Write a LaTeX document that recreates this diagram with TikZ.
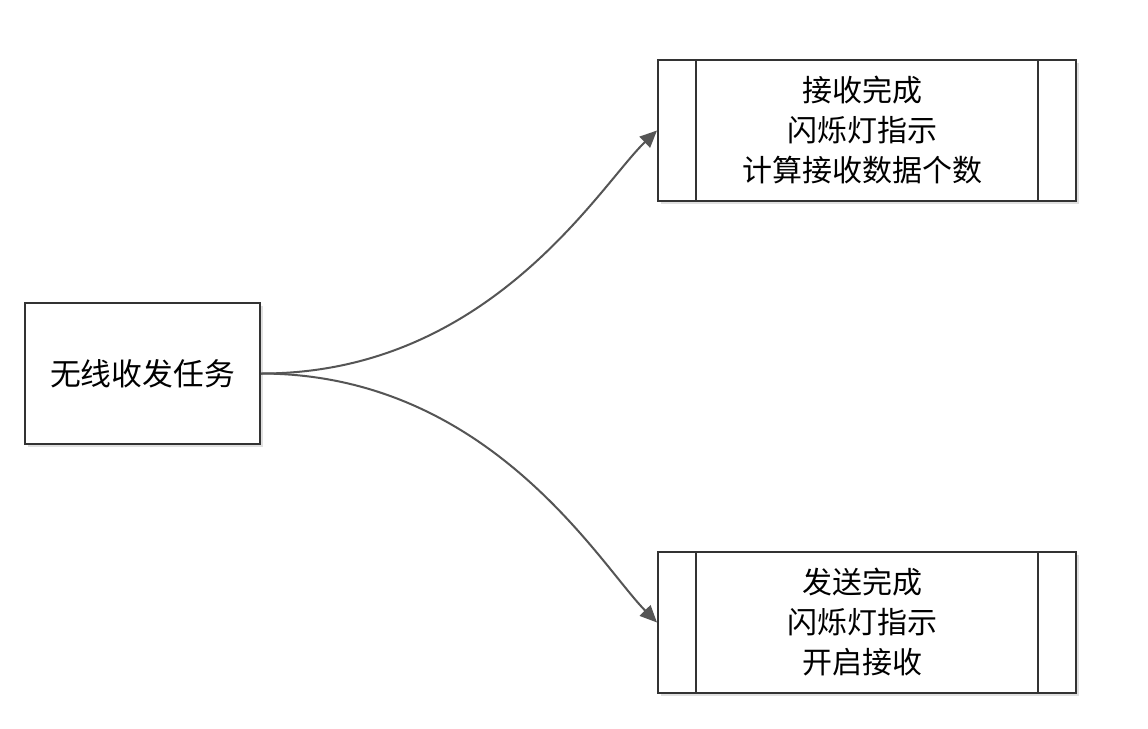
\documentclass[tikz,border=0pt]{standalone}
\usepackage{fontspec}
\setmainfont{Noto Sans CJK SC}
\usetikzlibrary{arrows.meta,shadows}
\definecolor{linegray}{HTML}{555555}
\definecolor{boxline}{HTML}{333333}
\begin{document}
\begin{tikzpicture}[x=0.5pt,y=-0.5pt,
  box/.style={draw=boxline, line width=1pt, fill=white, inner sep=0pt,
    drop shadow={shadow xshift=1.5pt, shadow yshift=-1.5pt, fill=black!12, opacity=1}},
  plainbox/.style={box, align=center, font=\fontsize{15.4pt}{20pt}\selectfont,
    minimum width=117.5pt, minimum height=70.5pt},
  predef/.style={box, minimum width=209pt, minimum height=70.5pt,
    path picture={
      \draw[boxline, line width=1pt] ([xshift=19pt]path picture bounding box.north west) -- ([xshift=19pt]path picture bounding box.south west);
      \draw[boxline, line width=1pt] ([xshift=-19pt]path picture bounding box.north east) -- ([xshift=-19pt]path picture bounding box.south east);
    }},
  boxtext/.style={align=center, font=\fontsize{15pt}{20pt}\selectfont, inner sep=0pt},
  conn/.style={draw=linegray, line width=1pt, -{Triangle[length=8.5pt, width=7.5pt, fill=linegray]}}
]
\useasboundingbox (0,0) rectangle (1148,729);
\fill[white] (0,0) rectangle (1148,729);
\node[plainbox] (task) at (142.5,373.5) {无线收发任务};
\node[predef] (rx) at (867,130.5) {};
\node[predef] (tx) at (867,622.5) {};
\node[boxtext] (rxtext) at ([xshift=-2.5pt]rx.center) {接收完成\\闪烁灯指示\\计算接收数据个数};
\node[boxtext] (txtext) at ([xshift=-2.5pt]tx.center) {发送完成\\闪烁灯指示\\开启接收};
\draw[conn] (task.east) .. controls (490,374) and (600,185) .. (rx.west);
\draw[conn] (task.east) .. controls (490,374) and (600,565) .. (tx.west);
\end{tikzpicture}
\end{document}
